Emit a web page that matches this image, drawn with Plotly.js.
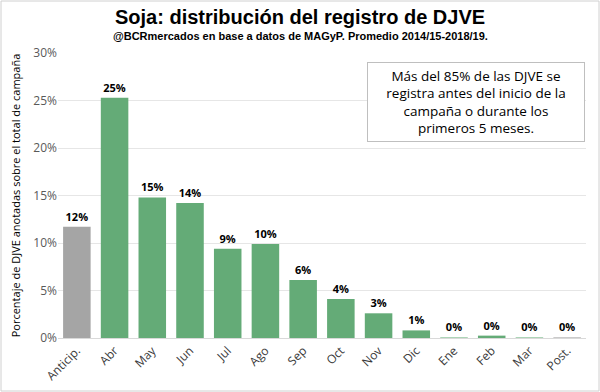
<!DOCTYPE html>
<html><head><meta charset="utf-8">
<script src="https://cdn.plot.ly/plotly-3.0.1.min.js"></script>
<style>html,body{margin:0;padding:0;background:#fff}#c{width:600px;height:392px}</style>
</head><body><div id="c"></div>
<script>
const categories = ["Anticip.","Abr","May","Jun","Jul","Ago","Sep","Oct","Nov","Dic","Ene","Feb","Mar","Post."];
const shares = [0.117,0.253,0.148,0.142,0.094,0.099,0.061,0.041,0.026,0.008,0.001,0.0025,0.001,0.001];
const barColors = ["#A5A5A5","#64AB77","#64AB77","#64AB77","#64AB77","#64AB77","#64AB77","#64AB77","#64AB77","#64AB77","#A9D3B4","#64AB77","#A9D3B4","#C8C8C8"];
const yTicks = [0,0.05,0.10,0.15,0.20,0.25,0.30];
const yTickText = ["0%","5%","10%","15%","20%","25%","30%"];
const titleText = "<b>Soja: distribución del registro de DJVE</b>";
const subtitleText = "<b>@BCRmercados en base a datos de MAGyP. Promedio 2014/15-2018/19.</b>";
const noteText = "Más del 85% de las DJVE se<br>registra antes del inicio de la<br>campaña o durante los<br>primeros 5 meses.";

const trace = {
  type: "bar", x: categories, y: shares,
  marker: {color: barColors},
  texttemplate: "<b>%{y:.0%}</b>", textposition: "outside", cliponaxis: false,
  textfont: {family: "Open Sans, sans-serif", size: 11, color: "#000"},
  hoverinfo: "skip"
};
const plotH = 392 - 53 - 54;
const plotW = 600 - 58 - 14;
const layout = {
  width: 600, height: 392,
  margin: {l: 58, r: 14, t: 53, b: 54},
  paper_bgcolor: "#fff", plot_bgcolor: "#fff",
  bargap: 0.27, showlegend: false,
  xaxis: {type: "category", tickangle: -45, showgrid: false, showline: true, linecolor: "#D9D9D9", linewidth: 1,
          ticks: "", tickfont: {family: "Open Sans, sans-serif", size: 12, color: "#3A3A3A"}},
  yaxis: {range: [0, 0.3], tickvals: yTicks, ticktext: yTickText, showgrid: true, gridcolor: "#E6E6E6", gridwidth: 1,
          zeroline: false, ticks: "", ticklen: 0, tickfont: {family: "Open Sans, sans-serif", size: 12, color: "#595959"},
          title: {text: "Porcentaje de DJVE anotadas sobre el total de campaña", standoff: 10,
                  font: {family: "Open Sans, sans-serif", size: 11, color: "#000"}}},
  annotations: [
    {text: titleText, xref: "paper", yref: "paper", x: (300 - 58) / plotW, y: (392 - 54 - 17) / plotH,
     xanchor: "center", yanchor: "middle",
     showarrow: false, font: {family: "Liberation Sans Narrow, Arial Narrow, sans-serif", size: 20, color: "#000"}},
    {text: subtitleText, xref: "paper", yref: "paper", x: (300 - 58) / plotW, y: (392 - 54 - 36) / plotH,
     xanchor: "center", yanchor: "middle",
     showarrow: false, font: {family: "Liberation Sans Narrow, Arial Narrow, sans-serif", size: 11, color: "#000"}},
    {text: noteText, xref: "paper", yref: "paper", x: (585 - 58) / plotW, y: (338 - 62) / plotH,
     xanchor: "right", yanchor: "top", width: 206, height: 68,
     showarrow: false, align: "center", bordercolor: "#BFBFBF", borderwidth: 1, borderpad: 5, bgcolor: "#fff",
     font: {family: "Open Sans, sans-serif", size: 13.5, color: "#000"}}
  ],
  shapes: [{type: "rect", xref: "paper", yref: "paper",
            x0: (1 - 58) / plotW, x1: (599 - 58) / plotW, y0: -(54 - 1) / plotH, y1: (392 - 54 - 1) / plotH,
            line: {color: "#D0D0D0", width: 1}}]
};
Plotly.newPlot("c", [trace], layout, {staticPlot: true});
</script></body></html>
